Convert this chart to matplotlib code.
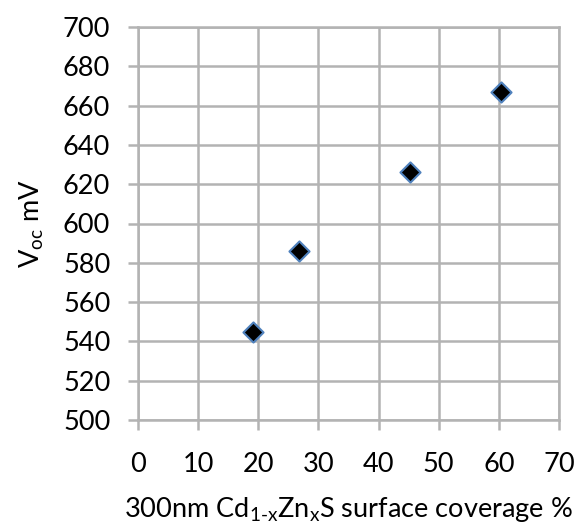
import matplotlib
matplotlib.use("Agg")
import matplotlib.pyplot as plt

# Surface coverage (%) and open-circuit voltage (mV)
coverage = [19.2, 26.8, 45.2, 60.3]
voc = [545, 586, 626, 667]

x_ticks = [0, 10, 20, 30, 40, 50, 60, 70]
y_ticks = [500, 520, 540, 560, 580, 600, 620, 640, 660, 680, 700]

plt.rcParams["font.family"] = ["Lato", "DejaVu Sans"]
plt.rcParams["mathtext.fontset"] = "custom"
plt.rcParams["mathtext.rm"] = "Lato"
plt.rcParams["mathtext.it"] = "Lato:italic"

grid_color = "#b3b3b3"
fs = 19.5

fig = plt.figure(figsize=(5.81, 5.31), dpi=100)
ax = fig.add_axes([138 / 581, 1 - 420 / 531, (559 - 138) / 581, (420 - 27) / 531])

ax.scatter(coverage, voc, marker="D", s=105, facecolor="black",
           edgecolor="#4f81bd", linewidth=1.5, zorder=3)

ax.set_xlim(0, 70)
ax.set_ylim(500, 700)
ax.set_xticks(x_ticks)
ax.set_yticks(y_ticks)
ax.grid(True, color=grid_color, linewidth=1.8)
ax.set_axisbelow(True)
for side in ax.spines.values():
    side.set_color(grid_color)
    side.set_linewidth(1.8)

ax.tick_params(axis="both", colors=grid_color, width=1.8, length=7,
               labelsize=fs, labelcolor="black")
ax.tick_params(axis="x", pad=16)
ax.tick_params(axis="y", pad=13)

ax.set_xlabel(r"300nm Cd$_{\mathregular{1\text{-}x}}$Zn$_{\mathregular{x}}$S surface coverage %",
              fontsize=fs, labelpad=13)
ax.set_ylabel(r"V$_{\mathregular{oc}}$ mV", fontsize=fs, labelpad=12)

fig.savefig("out.png", dpi=100)
